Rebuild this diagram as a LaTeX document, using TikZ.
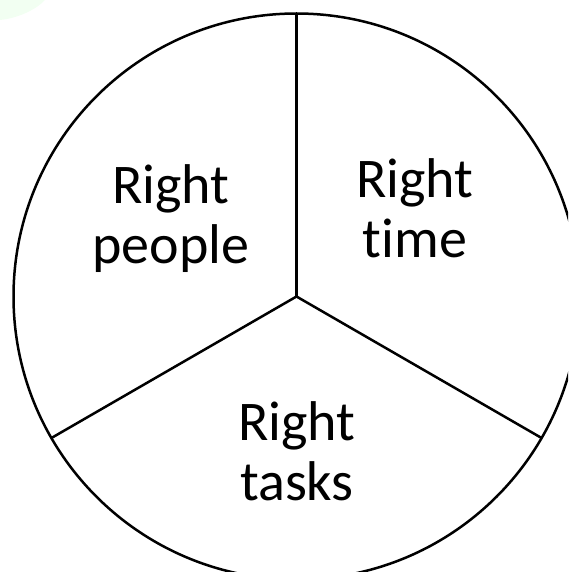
\documentclass[tikz,border=0pt]{standalone}
\usepackage{fontspec}
\setmainfont[Ligatures={NoCommon}]{Carlito}
\usetikzlibrary{calc}
\begin{document}
\begin{tikzpicture}[x=1pt,y=1pt,
  edge/.style={line width=2.5pt,black},
  lbl/.style={align=center,font=\fontsize{56}{60}\selectfont,inner sep=0pt,anchor=base}]
\useasboundingbox (0,0) rectangle (568,-572);
\fill[green!5!white] (0,0) -- (45,0) .. controls (38,-8) and (20,-18) .. (0,-20) -- cycle;
\begin{scope}
\clip (0,0) rectangle (568,-572);
\coordinate (c) at (296.5,-296.5);
\draw[edge] (c) circle[radius=283];
\coordinate (top) at ($(c)+(90:283)$);
\coordinate (lowleft) at ($(c)+(210:283)$);
\coordinate (lowright) at ($(c)+(-30:283)$);
\draw[edge] (c) -- (top);
\draw[edge] (c) -- (lowleft);
\draw[edge] (c) -- (lowright);
\end{scope}
\node[lbl] (people) at (171,-263) {Right\\people};
\node[lbl] (time) at (415,-257) {Right\\time};
\node[lbl] (tasks) at (297,-500) {Right\\tasks};
\end{tikzpicture}
\end{document}
